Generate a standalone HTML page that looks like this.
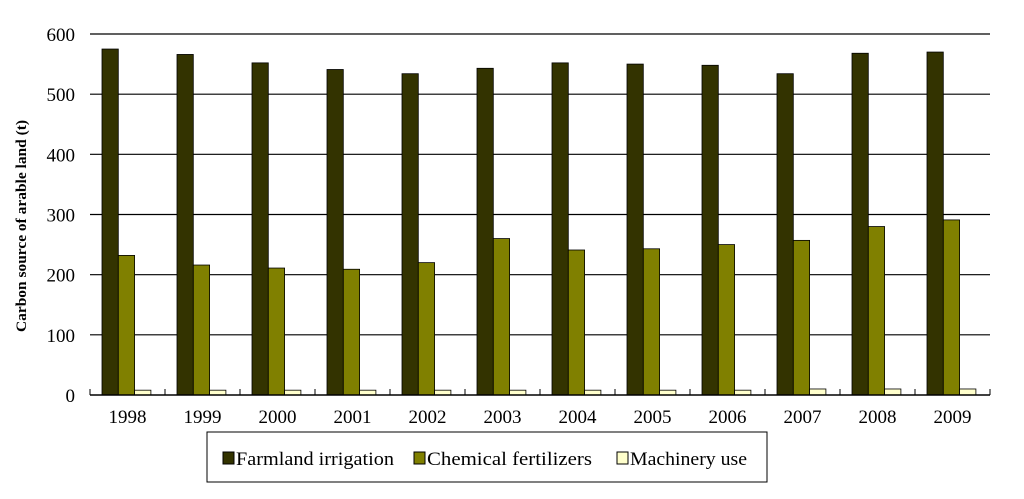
<!DOCTYPE html>
<html><head><meta charset="utf-8"><style>
body{margin:0;background:#fff;}
svg text{font-family:"Liberation Serif",serif;}
</style></head><body>
<svg id="chart" width="1024" height="494" xmlns="http://www.w3.org/2000/svg">
<g id="grid"></g><g id="bars"></g><g id="axes"></g>
<text transform="translate(26,226) rotate(-90)" text-anchor="middle" font-size="15" font-weight="bold" textLength="212" lengthAdjust="spacingAndGlyphs">Carbon source of arable land (t)</text>
<g>
<rect x="207" y="432" width="560" height="50" fill="#fff" stroke="#000" stroke-width="1"/>
<rect x="223" y="452" width="11" height="12" fill="#333300" stroke="#000"/>
<text x="236" y="465" font-size="19" textLength="158" lengthAdjust="spacingAndGlyphs">Farmland irrigation</text>
<rect x="414" y="452" width="11" height="12" fill="#808000" stroke="#000"/>
<text x="427" y="465" font-size="19" textLength="165" lengthAdjust="spacingAndGlyphs">Chemical fertilizers</text>
<rect x="617" y="452" width="11" height="12" fill="#ffffcc" stroke="#000"/>
<text x="630" y="465" font-size="19" textLength="117" lengthAdjust="spacingAndGlyphs">Machinery use</text>
</g>
</svg>
<script>
const years=["1998","1999","2000","2001","2002","2003","2004","2005","2006","2007","2008","2009"];
const irrigation=[575,566,552,541,534,543,552,550,548,534,568,570];
const fertilizers=[232,216,211,209,220,260,241,243,250,257,280,291];
const machinery=[8,8,8,8,8,8,8,8,8,10,10,10];
const yTicks=[0,100,200,300,400,500,600];
const NS="http://www.w3.org/2000/svg";
const x0=90,x1=990,y0=395,yTop=34,yMax=600;
const gw=(x1-x0)/years.length;
const y=v=>y0-(v/yMax)*(y0-yTop);
function mk(tag,attrs,parent){const e=document.createElementNS(NS,tag);for(const k in attrs)e.setAttribute(k,attrs[k]);parent.appendChild(e);return e;}
const grid=document.getElementById('grid'),bars=document.getElementById('bars'),axes=document.getElementById('axes');
yTicks.forEach(t=>{
  if(t>0){const l=mk('line',{x1:x0,x2:x1,y1:y(t),y2:y(t),stroke:'#000','stroke-width':1.2},grid);
  
  }
  const tx=mk('text',{x:x0-15,y:y(t)+7,'text-anchor':'end','font-size':19},axes);
  tx.textContent=t;
  
  
});
const series=[[irrigation,'#333300','irrigation'],[fertilizers,'#808000','fertilizers'],[machinery,'#ffffcc','machinery']];
const bw=16.3;
years.forEach((yr,i)=>{
  const gx=x0+i*gw;
  series.forEach((s,j)=>{
    const v=s[0][i];
    const r=mk('rect',{x:gx+12+j*bw,y:y(v),width:bw,height:y0-y(v),fill:s[1],stroke:'#000','stroke-width':0.8},bars);
    
    
  });
  const tx=mk('text',{x:gx+gw/2,y:y0+28,'text-anchor':'middle','font-size':19},axes);
  tx.textContent=yr;
  
  
});
for(let i=0;i<=years.length;i++){
  const t=mk('line',{x1:x0+i*gw,x2:x0+i*gw,y1:y0,y2:y0-6,stroke:'#000','stroke-width':1},axes);
  
  
}
const xa=mk('line',{x1:x0,x2:x1,y1:y0,y2:y0,stroke:'#000','stroke-width':1.5},axes);


</script>
</body></html>
